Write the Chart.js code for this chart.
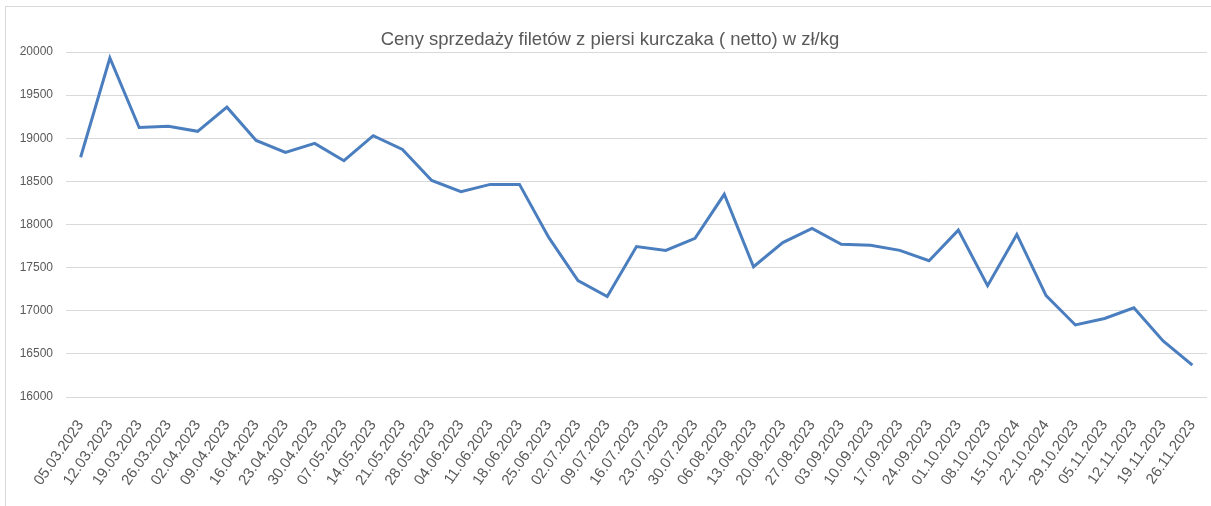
<!DOCTYPE html>
<html>
<head>
<meta charset="utf-8">
<script src="https://cdn.jsdelivr.net/npm/chart.js@4"></script>
<style>
  body { margin: 0; background: #fff; }
  #wrap { position: relative; width: 1211px; height: 506px; overflow: hidden; }
  #frame { position: absolute; left: 5px; top: 6px; width: 1220px; height: 520px; border: 1px solid #d9d9d9; }
  canvas { position: absolute; left: 0; top: 0; }
</style>
</head>
<body>
<div id="wrap">
  <div id="frame"></div>
  <canvas id="prices" width="1211" height="506"></canvas>
</div>
<script>
const dates = [
  '05.03.2023', '12.03.2023', '19.03.2023', '26.03.2023', '02.04.2023', '09.04.2023',
  '16.04.2023', '23.04.2023', '30.04.2023', '07.05.2023', '14.05.2023', '21.05.2023',
  '28.05.2023', '04.06.2023', '11.06.2023', '18.06.2023', '25.06.2023', '02.07.2023',
  '09.07.2023', '16.07.2023', '23.07.2023', '30.07.2023', '06.08.2023', '13.08.2023',
  '20.08.2023', '27.08.2023', '03.09.2023', '10.09.2023', '17.09.2023', '24.09.2023',
  '01.10.2023', '08.10.2023', '15.10.2024', '22.10.2024', '29.10.2023', '05.11.2023',
  '12.11.2023', '19.11.2023', '26.11.2023'
];
const prices = [
  18780, 19930, 19125, 19140, 19080, 19360,
  18975, 18835, 18940, 18740, 19030, 18870,
  18510, 18380, 18465, 18465, 17850, 17350,
  17165, 17745, 17700, 17840, 18350, 17510,
  17790, 17955, 17770, 17760, 17700, 17580,
  17935, 17290, 17885, 17175, 16835, 16910,
  17035, 16650, 16370
];
const yMin = 16000;
const yMax = 20000;
const yStep = 500;
const chartTitle = 'Ceny sprzedaży filetów z piersi kurczaka ( netto) w zł/kg';

const textColor = '#595959';
const gridColor = '#d9d9d9';
const fontFamily = '"Liberation Sans", Arial, sans-serif';

// title drawn by hand, Excel centres it a bit right of the chart area
const titlePlugin = {
  id: 'excelTitle',
  afterDraw: function(chart) {
    const c = chart.ctx;
    c.save();
    c.font = '18.5px ' + fontFamily;
    c.fillStyle = textColor;
    c.textAlign = 'center';
    c.textBaseline = 'middle';
    c.fillText(chartTitle, 610, 40);
    c.restore();
  }
};

const ctx = document.getElementById('prices');

new Chart(ctx, {
  type: 'line',
  data: {
    labels: dates,
    datasets: [{
      label: 'Cena',
      data: prices,
      borderColor: '#4a7ebf',
      borderWidth: 3,
      pointRadius: 0,
      tension: 0,
      fill: false
    }]
  },
  plugins: [titlePlugin],
  options: {
    responsive: false,
    animation: false,
    layout: {
      padding: { left: 0, right: 4, top: 52, bottom: 0 }
    },
    plugins: {
      legend: { display: false },
      tooltip: { enabled: false },
      title: { display: false }
    },
    scales: {
      x: {
        offset: true,
        grid: { display: false, drawTicks: false },
        border: { display: false },
        ticks: {
          autoSkip: false,
          minRotation: 55,
          maxRotation: 55,
          padding: 20,
          color: textColor,
          font: { family: fontFamily, size: 15 }
        },
        afterFit: function(scale) {
          scale.height = 109;
          scale.paddingRight = 0;
        }
      },
      y: {
        min: yMin,
        max: yMax,
        grid: { color: gridColor, drawTicks: false },
        border: { display: false },
        ticks: {
          stepSize: yStep,
          padding: 13,
          color: textColor,
          font: { family: fontFamily, size: 12 },
          callback: function(value) {
            return value;
          }
        },
        afterFit: function(scale) {
          scale.width = 66;
        }
      }
    }
  }
});
</script>
</body>
</html>
